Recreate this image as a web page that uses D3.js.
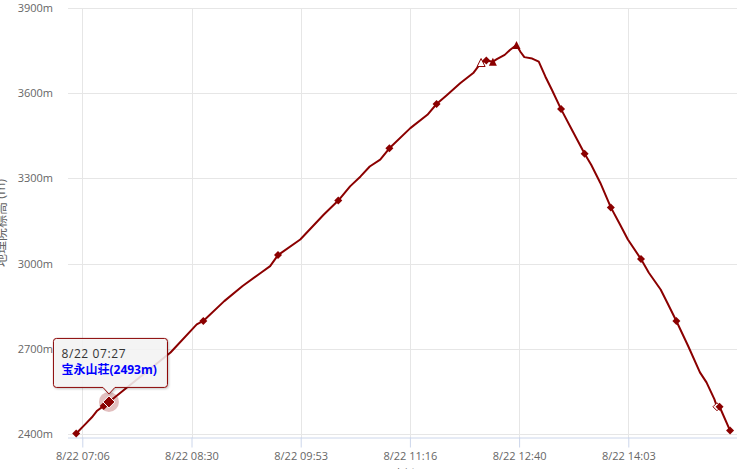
<!DOCTYPE html>
<html>
<head>
<meta charset="utf-8">
<script src="https://cdn.jsdelivr.net/npm/d3@7"></script>
<style>
  body { margin: 0; background: #fff; }
  text { font-family: "Open Sans", "Noto Sans CJK JP", sans-serif; }
  .tick-label { font-size: 11px; fill: #666; }
  .axis-title { font-size: 12px; fill: #666; }
</style>
</head>
<body>
<div id="chart"></div>
<script>
// track data (date 8/22)
var day = "2015-08-22";
var times = ["07:02", "07:09", "07:14", "07:18", "07:23", "07:27", "08:14", "08:34", "08:39", "08:55",
  "09:09", "09:23", "09:30", "09:36", "09:53", "10:11", "10:22", "10:31", "10:39", "10:46",
  "10:54", "11:01", "11:17", "11:30", "11:37", "11:45", "11:55", "12:05", "12:11", "12:15",
  "12:20", "12:23", "12:29", "12:33", "12:38", "12:41", "12:44", "12:50", "12:55", "13:00",
  "13:05", "13:12", "13:21", "13:30", "13:35", "13:42", "13:50", "13:57", "14:03", "14:13",
  "14:19", "14:28", "14:33", "14:40", "14:49", "14:58", "15:03", "15:09", "15:11", "15:13", "15:21"];
var elevations = [2402, 2435, 2459, 2482, 2499, 2513, 2687, 2786, 2798, 2868,
  2921, 2968, 2991, 3030, 3085, 3173, 3222, 3272, 3307, 3342,
  3366, 3406, 3477, 3524, 3562, 3594, 3635, 3671, 3708, 3715,
  3711, 3720, 3735, 3752, 3770, 3746, 3727, 3722, 3711, 3659,
  3612, 3544, 3465, 3387, 3348, 3284, 3198, 3138, 3085, 3016,
  2968, 2909, 2863, 2798, 2710, 2617, 2582, 2523, 2496, 2496, 2412];
// marker per point: d = diamond, t = triangle, dh/th = hollow, "" = none
var markers = ["d", "", "", "", "d", "d", "", "", "d", "",
  "", "", "", "d", "", "", "d", "", "", "",
  "", "d", "", "", "d", "", "", "", "th", "d",
  "t", "", "", "", "t", "", "", "", "", "",
  "", "d", "", "d", "", "", "d", "", "", "d",
  "", "", "", "d", "", "", "", "", "dh", "d", "d"];

var yTicks = [2400, 2700, 3000, 3300, 3600, 3900];
var xTicks = ["07:06:40", "08:30:00", "09:53:20", "11:16:40", "12:40:00", "14:03:20"];

// hovered point and its tooltip
var hoverIndex = 5;
var hoverName = "宝永山荘";
var hoverElev = 2493;

var svgWidth = 755;
var svgHeight = 469;
var plot = { left: 68, right: 737, top: 8, bottom: 438 };

var parseMin = d3.timeParse("%Y-%m-%d %H:%M");
var parseSec = d3.timeParse("%Y-%m-%d %H:%M:%S");
var fmt = d3.timeFormat("%-m/%d %H:%M");

var data = times.map(function(t, i) {
  return { time: parseMin(day + " " + t), elev: elevations[i], marker: markers[i] };
});

var svg = d3.select("#chart")
  .append("svg")
  .attr("width", svgWidth)
  .attr("height", svgHeight);

var defs = svg.append("defs");
var shadow = defs.append("filter").attr("id", "shadow")
  .attr("x", "-10%").attr("y", "-10%").attr("width", "130%").attr("height", "140%");
shadow.append("feDropShadow")
  .attr("dx", 1).attr("dy", 1).attr("stdDeviation", 1)
  .attr("flood-color", "#000").attr("flood-opacity", 0.25);

// scales
var xScale = d3.scaleTime()
  .domain([parseSec(day + " 06:55:45"), parseSec(day + " 15:26:17")])
  .range([plot.left, plot.right]);

var yScale = d3.scaleLinear()
  .domain([2386, 3900])
  .range([plot.bottom, plot.top]);

var xTickDates = xTicks.map(function(t) { return parseSec(day + " " + t); });

// grid lines
svg.append("g")
  .selectAll("line")
  .data(yTicks)
  .enter()
  .append("line")
  .attr("x1", plot.left)
  .attr("x2", plot.right)
  .attr("y1", d => Math.round(yScale(d)) + 0.5)
  .attr("y2", d => Math.round(yScale(d)) + 0.5)
  .attr("stroke", "#e6e6e6");

svg.append("g")
  .selectAll("line")
  .data(xTickDates)
  .enter()
  .append("line")
  .attr("x1", d => Math.round(xScale(d)) + 0.5)
  .attr("x2", d => Math.round(xScale(d)) + 0.5)
  .attr("y1", plot.top)
  .attr("y2", plot.bottom)
  .attr("stroke", "#e6e6e6");

// x axis
var xAxis = d3.axisBottom(xScale)
  .tickValues(xTickDates)
  .tickFormat(fmt)
  .tickSize(10)
  .tickPadding(5);

var xAxisG = svg.append("g")
  .attr("transform", `translate(0, ${plot.bottom - 0.5})`)
  .call(xAxis);
xAxisG.select(".domain").attr("d", `M${plot.left},0.5H${plot.right}`).attr("stroke", "#ccd6eb");
xAxisG.selectAll(".tick line").attr("stroke", "#ccd6eb");
xAxisG.selectAll(".tick text").attr("class", "tick-label").attr("font-family", null).attr("font-size", null);

// y axis labels
svg.append("g")
  .selectAll("text")
  .data(yTicks)
  .enter()
  .append("text")
  .attr("class", "tick-label")
  .attr("x", 53)
  .attr("y", d => yScale(d) + 4)
  .attr("text-anchor", "end")
  .text(d => d + "m");

// axis titles (both partly outside the picture, as in the original)
svg.append("text")
  .attr("class", "axis-title")
  .attr("font-size", 13)
  .style("font-size", "13px")
  .attr("transform", `translate(5, ${(plot.top + plot.bottom) / 2}) rotate(-90)`)
  .attr("text-anchor", "middle")
  .text("地理院標高 (m)");

svg.append("text")
  .attr("class", "axis-title")
  .attr("x", (plot.left + plot.right) / 2)
  .attr("y", 479)
  .attr("text-anchor", "middle")
  .text("時刻");

// line
var line = d3.line()
  .x(d => xScale(d.time))
  .y(d => yScale(d.elev));

svg.append("path")
  .datum(data)
  .attr("d", line)
  .attr("fill", "none")
  .attr("stroke", "#8b0000")
  .attr("stroke-width", 2)
  .attr("stroke-linejoin", "round");

// marker shapes
function shape(type, r) {
  if (type[0] === "t") {
    return `M0,${-r}L${r},${r}L${-r},${r}Z`;
  }
  return `M0,${-r}L${r},0L0,${r}L${-r},0Z`;
}

svg.append("g")
  .selectAll("path")
  .data(data.filter((d, i) => d.marker && i !== hoverIndex))
  .enter()
  .append("path")
  .attr("transform", d => `translate(${xScale(d.time)}, ${yScale(d.elev)})`)
  .attr("d", d => shape(d.marker, 4))
  .attr("fill", d => d.marker.length > 1 ? "#fff" : "#8b0000")
  .attr("stroke", d => d.marker.length > 1 ? "#8b0000" : "none")
  .attr("stroke-width", 1);

// hovered point with halo
var hp = data[hoverIndex];
var hx = xScale(hp.time);
var hy = yScale(hp.elev);

svg.append("circle")
  .attr("cx", hx)
  .attr("cy", hy)
  .attr("r", 10)
  .attr("fill", "#8b0000")
  .attr("fill-opacity", 0.25);

svg.append("path")
  .attr("transform", `translate(${hx}, ${hy})`)
  .attr("d", shape("d", 6))
  .attr("fill", "#8b0000")
  .attr("stroke", "#fff")
  .attr("stroke-width", 1);

// tooltip
var tip = svg.append("g")
  .attr("transform", `translate(${hx}, ${hy})`);

var bx0 = -55.5, bx1 = 58.5, by0 = -63.5, by1 = -14.5, rr = 3;
tip.append("path")
  .attr("d", `M${bx0 + rr},${by0}H${bx1 - rr}Q${bx1},${by0} ${bx1},${by0 + rr}` +
    `V${by1 - rr}Q${bx1},${by1} ${bx1 - rr},${by1}H6L0,-8L-6,${by1}` +
    `H${bx0 + rr}Q${bx0},${by1} ${bx0},${by1 - rr}V${by0 + rr}Q${bx0},${by0} ${bx0 + rr},${by0}Z`)
  .attr("fill", "rgba(247,247,247,0.85)")
  .attr("stroke", "#8b0000")
  .attr("stroke-width", 1)
  .attr("filter", "url(#shadow)");

tip.append("text")
  .attr("x", bx0 + 8)
  .attr("y", by0 + 20)
  .attr("font-size", 12)
  .attr("letter-spacing", 0.6)
  .attr("fill", "#333")
  .text(fmt(hp.time));

tip.append("text")
  .attr("x", bx0 + 8)
  .attr("y", by0 + 36)
  .attr("font-size", 12)
  .attr("font-weight", "bold")
  .attr("fill", "#0000ff")
  .text(`${hoverName}(${hoverElev}m)`);
</script>
</body>
</html>
